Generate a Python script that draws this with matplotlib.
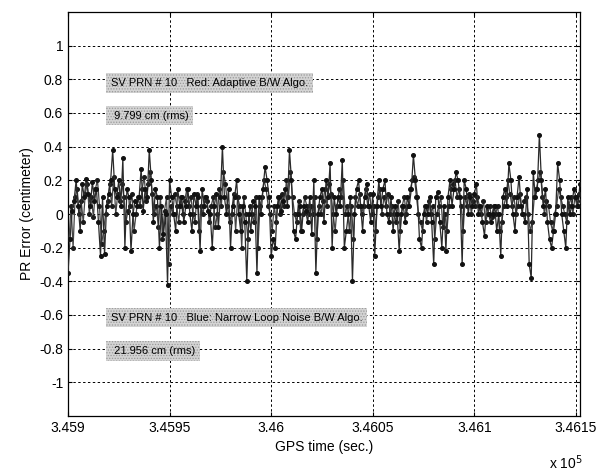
import numpy as np
import matplotlib
matplotlib.use("Agg")
import matplotlib.pyplot as plt

plt.rcParams['font.family'] = ['Liberation Sans', 'DejaVu Sans']
plt.rcParams['hatch.linewidth'] = 0.6

t0 = 345900
red_err = [
    -0.35, -0.15, 0.02, 0.08, 0.20, 0.05, -0.10, 0.18, 0.10, 0.21,
    0.12, 0.05, 0.19, 0.08, 0.15, -0.05, -0.25, 0.10, -0.24, 0.05,
    0.12, 0.20, 0.38, 0.15, 0.10, 0.20, 0.05, 0.33, -0.20, 0.15,
    0.10, -0.22, 0.00, 0.08, 0.05, 0.10, 0.27, 0.02, 0.15, 0.10,
    0.38, 0.20, -0.05, 0.15, 0.10, -0.20, 0.05, -0.12, 0.00, -0.42,
    0.20, 0.10, 0.00, -0.10, 0.15, 0.05, 0.10, -0.05, 0.05, 0.15,
    0.00, -0.10, 0.12, 0.05, 0.10, -0.22, 0.15, 0.05, 0.10, 0.02,
    0.00, -0.20, 0.05, 0.12, -0.08, 0.10, 0.40, 0.10, 0.00, 0.15,
    -0.20, 0.05, 0.10, 0.20, 0.00, -0.10, 0.05, -0.05, -0.40, 0.00,
    -0.10, 0.08, 0.05, -0.35, 0.10, 0.00, 0.15, 0.28, 0.20, 0.10,
    -0.25, -0.15, -0.20, 0.05, 0.10, 0.02, 0.08, 0.15, 0.05, 0.38,
    0.20, -0.10, -0.15, 0.00, 0.05, -0.10, 0.05, 0.02, -0.05, 0.10,
    -0.12, 0.20, -0.35, 0.00, 0.10, 0.15, -0.05, 0.20, 0.10, 0.30,
    -0.20, 0.10, 0.00, 0.10, 0.05, 0.32, -0.20, -0.10, 0.00, 0.10,
    -0.40, 0.00, 0.15, 0.20, 0.05, -0.10, 0.10, 0.18, 0.05, -0.05,
    0.12, -0.25, 0.05, 0.20, 0.05, 0.15, 0.20, 0.00, -0.05, 0.10,
    -0.10, 0.05, 0.00, -0.22, 0.00, 0.05, -0.05, 0.10, 0.05, 0.15,
    0.35, 0.20, 0.10, -0.15, -0.20, 0.00, 0.05, 0.00, 0.10, -0.05,
    -0.30, 0.10, 0.13, -0.05, -0.20, 0.05, -0.22, 0.10, 0.20, 0.05,
    0.15, 0.25, 0.20, 0.10, -0.30, 0.20, 0.15, 0.00, 0.10, 0.05,
    0.12, 0.18, 0.00, 0.05, -0.05, -0.13, 0.05, 0.00, -0.05, 0.00,
    0.05, -0.10, 0.00, -0.25, 0.10, 0.15, 0.05, 0.30, 0.20, 0.00,
    -0.10, 0.10, 0.22, 0.05, 0.00, -0.05, 0.15, -0.30, -0.38, 0.25,
    0.10, 0.15, 0.47, 0.20, 0.05, 0.15, -0.05, -0.15, -0.20, -0.10,
    0.00, 0.30, 0.20, 0.00, -0.10, -0.20, 0.10, 0.00, 0.05, 0.15,
    0.10, 0.05, 0.18,
]
blue_err = [
    -0.15, 0.05, -0.20, 0.10, 0.15, 0.00, 0.08, -0.05, 0.12, 0.18,
    0.00, 0.10, -0.02, 0.15, 0.20, 0.05, -0.18, -0.10, 0.00, 0.08,
    0.18, 0.05, 0.22, 0.00, 0.12, 0.08, 0.18, 0.10, -0.05, 0.02,
    0.05, 0.12, -0.10, 0.00, 0.10, 0.05, 0.15, 0.22, 0.08, 0.18,
    0.25, 0.12, 0.00, 0.05, -0.08, 0.10, -0.15, 0.02, 0.10, -0.30,
    0.05, 0.00, 0.12, 0.05, -0.05, 0.10, 0.00, 0.08, 0.15, 0.05,
    0.10, 0.00, -0.05, 0.12, -0.10, 0.05, 0.00, 0.10, 0.08, -0.05,
    0.05, 0.10, -0.08, 0.00, 0.15, 0.05, 0.25, 0.18, 0.05, -0.05,
    0.00, 0.12, -0.10, 0.10, 0.05, -0.20, 0.10, 0.00, -0.15, 0.05,
    0.00, -0.05, 0.10, -0.20, 0.05, 0.10, 0.20, 0.15, 0.05, 0.00,
    -0.10, 0.05, -0.05, 0.10, 0.00, 0.12, 0.05, 0.20, 0.10, 0.25,
    0.10, 0.00, -0.05, 0.08, -0.10, 0.00, 0.10, 0.05, 0.00, 0.05,
    0.00, 0.10, -0.15, 0.05, 0.00, 0.08, 0.15, 0.05, 0.18, 0.12,
    0.00, -0.10, 0.05, 0.15, 0.10, 0.20, 0.00, 0.05, -0.10, 0.05,
    -0.15, 0.10, 0.05, 0.12, 0.00, 0.05, 0.15, 0.05, 0.12, 0.00,
    0.05, -0.10, 0.10, 0.15, 0.00, 0.10, 0.05, 0.12, 0.00, 0.05,
    0.00, -0.05, 0.08, -0.10, 0.05, 0.10, 0.00, 0.05, 0.15, 0.20,
    0.22, 0.10, 0.00, -0.05, -0.10, 0.05, -0.05, 0.08, 0.00, 0.05,
    -0.15, 0.00, 0.05, 0.10, -0.08, 0.00, -0.10, 0.05, 0.15, 0.18,
    0.20, 0.10, 0.15, 0.05, -0.10, 0.10, 0.05, 0.12, 0.00, 0.08,
    0.05, 0.10, 0.05, 0.00, 0.08, -0.05, 0.00, 0.05, -0.02, 0.05,
    0.00, 0.05, -0.10, -0.05, 0.05, 0.10, 0.20, 0.12, 0.05, 0.10,
    0.00, 0.05, 0.12, 0.00, 0.08, 0.10, 0.00, -0.10, -0.05, 0.10,
    0.15, 0.20, 0.25, 0.10, 0.00, 0.08, 0.05, -0.05, -0.10, 0.00,
    0.05, 0.15, 0.10, 0.05, 0.00, -0.05, 0.05, 0.10, 0.00, 0.10,
    0.05, 0.12, 0.08,
]
x_ticks = [345900, 345950, 346000, 346050, 346100, 346150]
x_tick_labels = ['3.459', '3.4595', '3.46', '3.4605', '3.461', '3.4615']
y_ticks = [-1, -0.8, -0.6, -0.4, -0.2, 0, 0.2, 0.4, 0.6, 0.8, 1]
y_tick_labels = ['-1', '-0.8', '-0.6', '-0.4', '-0.2', '0', '0.2', '0.4', '0.6', '0.8', '1']

t_red = t0 + np.arange(len(red_err))
t_blue = t0 + np.arange(len(blue_err)) + 0.5

fig = plt.figure(figsize=(5.96, 4.73), dpi=100)
ax = fig.add_axes([68/596, 1-416/473, (580-68)/596, (416-12)/473])

ax.plot(t_blue, blue_err, '-', color='#444444', lw=0.9, marker='o', ms=2.6,
        mfc='#1a1a1a', mec='#1a1a1a', zorder=3)
ax.plot(t_red, red_err, '-', color='#2a2a2a', lw=0.9, marker='o', ms=2.6,
        mfc='#111111', mec='#111111', zorder=4)

ax.set_xlim(345900, 346152)
ax.set_ylim(-1.2, 1.2)
ax.set_xticks(x_ticks)
ax.set_xticklabels(x_tick_labels)
ax.set_yticks(y_ticks)
ax.set_yticklabels(y_tick_labels)
ax.tick_params(direction='in', length=3, labelsize=10, top=True, right=True, width=0.8)
ax.grid(True, color='black', linestyle=(0, (2.5, 2.5)), linewidth=0.7)
for s in ax.spines.values():
    s.set_linewidth(0.9)

ax.set_xlabel('GPS time (sec.)', fontsize=10, labelpad=4)
ax.set_ylabel('PR Error (centimeter)', fontsize=10, labelpad=4)
fig.text(566/596, 1-463/473, 'x 10$^5$', fontsize=10, ha='center', va='center')

box = dict(facecolor='#d4d4d4', edgecolor='#9a9a9a', linewidth=0, hatch='......', pad=3.5)
xt = 345921
ax.text(xt, 0.78, 'SV PRN # 10   Red: Adaptive B/W Algo.', fontsize=8, va='center', bbox=box, zorder=6)
ax.text(xt, 0.585, ' 9.799 cm (rms)', fontsize=8, va='center', bbox=box, zorder=6)
ax.text(xt, -0.615, 'SV PRN # 10   Blue: Narrow Loop Noise B/W Algo.', fontsize=8, va='center', bbox=box, zorder=6)
ax.text(xt, -0.815, ' 21.956 cm (rms)', fontsize=8, va='center', bbox=box, zorder=6)

fig.savefig('out.png', dpi=100)
